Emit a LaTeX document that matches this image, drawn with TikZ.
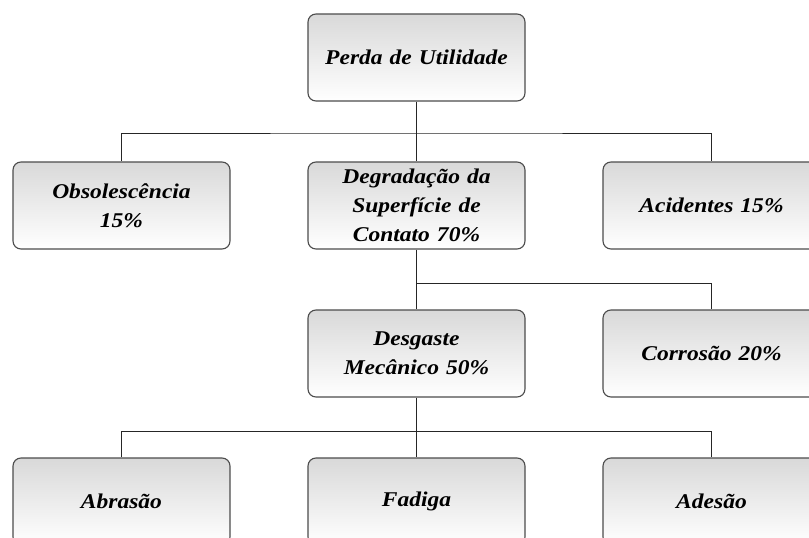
\documentclass[tikz,border=0pt]{standalone}
\usepackage{fontspec}
\setmainfont{Liberation Serif}
\newfontfamily\boxfont[FakeStretch=1.12]{Liberation Serif}
\begin{document}
\begin{tikzpicture}[x=1pt,y=-1pt,
  box/.style={draw=black!70, line width=1.1pt, rounded corners=8pt,
    top color=black!15, bottom color=white,
    minimum width=217pt, minimum height=87pt, align=center, text width=210pt,
    font=\boxfont\fontsize{21}{29}\selectfont\bfseries\itshape, inner sep=0pt},
  conn/.style={draw=black!85, line width=1pt}]
\useasboundingbox (0,0) rectangle (809,538);
\clip (0,0) rectangle (809,538);
\node[box] (top) at (416.5,57.5) {Perda de Utilidade};
\node[box] (obs) at (121.5,205.5) {Obsolescência\\15\%};
\node[box] (deg) at (416.5,205.5) {Degradação da\\Superfície de\\Contato 70\%};
\node[box] (aci) at (711.5,205.5) {Acidentes 15\%};
\node[box] (des) at (416.5,353.5) {Desgaste\\Mecânico 50\%};
\node[box] (cor) at (711.5,353.5) {Corrosão 20\%};
\node[box] (abr) at (121.5,501.5) {Abrasão};
\node[box] (fad) at (416.5,501.5) {Fadiga};
\node[box] (ade) at (711.5,501.5) {Adesão};
\coordinate (j1) at (416.5,133);
\coordinate (j2) at (416.5,283);
\draw[conn] (top.south) -- (deg.north);
\draw[conn] (obs.north) |- (j1) -| (aci.north);
\draw[conn] (deg.south) -- (des.north);
\draw[conn] (j2) -| (cor.north);
\draw[conn] (des.south) -- (fad.north);
\draw[conn] (abr.north) -- ++(0,-26) -| (ade.north);
\end{tikzpicture}
\end{document}
